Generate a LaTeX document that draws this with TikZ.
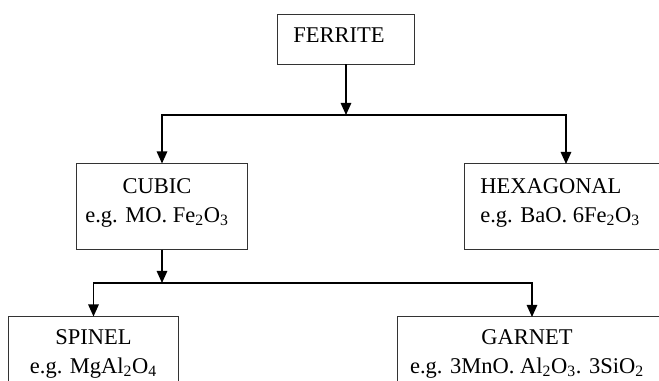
\documentclass[tikz,border=0pt]{standalone}
\usepackage{fontspec}
\setmainfont{Liberation Serif}
\usetikzlibrary{arrows.meta}
\tikzset{
    boite/.style={draw=black!80, line width=0.7pt, inner sep=0pt},
    txt/.style={inner sep=0pt, font=\fontsize{16}{20.6}\selectfont},
    fleche/.style={line width=1.1pt, -{Triangle[length=3mm, width=2.6mm]}}
}
\begin{document}
\begin{tikzpicture}[x=0.025cm, y=-0.025cm]
    \useasboundingbox (0,0) rectangle (659,381);
    \clip (0,0) rectangle (659,381);
    % boites
    \node[boite, minimum width=3.4cm, minimum height=1.25cm] (ferrite) at (346,39) {};
    \node[boite, minimum width=4.25cm, minimum height=2.125cm] (cubic) at (162,206.5) {};
    \node[boite, minimum width=5.625cm, minimum height=2.125cm] (hex) at (577.5,206.5) {};
    \node[boite, minimum width=4.225cm, minimum height=2.575cm] (spinel) at (93.5,368.5) {};
    \node[boite, minimum width=7.3cm, minimum height=2.575cm] (garnet) at (544,368.5) {};
    % textes
    \node[txt, anchor=north west] (tferrite) at (293,27) {FERRITE};
    \node[txt, anchor=north, align=center] (tcubic) at (157,178) {CUBIC\\e.g. MO. Fe\textsubscript{2}O\textsubscript{3}};
    \node[txt, anchor=north west, align=left] (thex) at (480,178) {HEXAGONAL\\e.g. BaO. 6Fe\textsubscript{2}O\textsubscript{3}};
    \node[txt, anchor=north, align=center] (tspinel) at (93.5,329) {SPINEL\\e.g. MgAl\textsubscript{2}O\textsubscript{4}};
    \node[txt, anchor=north, align=center] (tgarnet) at (527,329) {GARNET\\e.g. 3MnO. Al\textsubscript{2}O\textsubscript{3}. 3SiO\textsubscript{2}};
    % embranchements
    \coordinate (j1) at (346,115);
    \coordinate (j2) at (162,283);
    \coordinate (hexin) at (566,164);
    \coordinate (garnetin) at (532,317);
    \draw[fleche] (ferrite.south) -- (j1);
    \draw[fleche] (j1) -| (cubic.north);
    \draw[fleche] (j1) -| (hexin);
    \draw[fleche] (cubic.south) -- (j2);
    \draw[fleche] (j2) -| (spinel.north);
    \draw[fleche] (j2) -| (garnetin);
\end{tikzpicture}
\end{document}
